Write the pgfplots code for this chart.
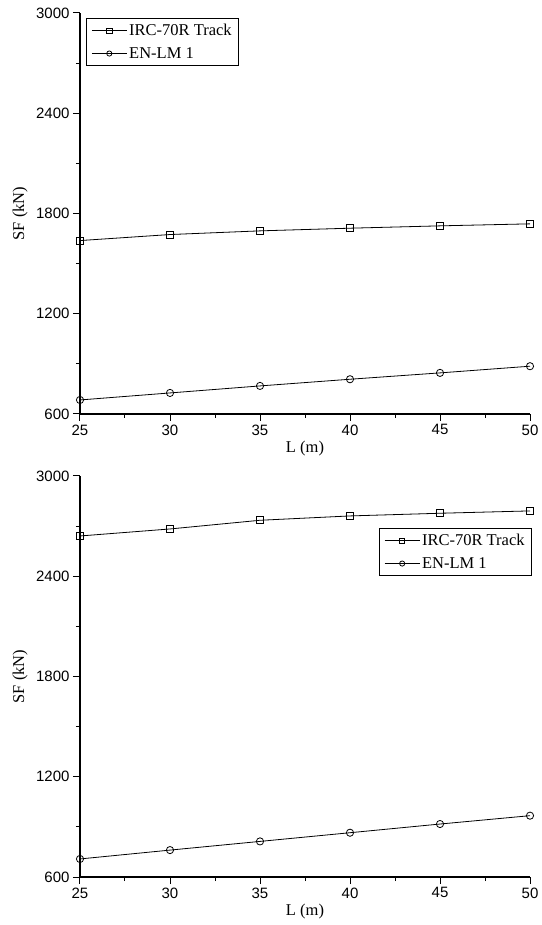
\documentclass[border=0pt]{standalone}
\usepackage{pgfplots}
\pgfplotsset{compat=1.18}
\usepackage{fontspec}
\setmainfont{Liberation Serif}
\newfontfamily\tickfont{Liberation Sans}
\begin{document}
\begin{tikzpicture}
\pgfplotsset{
 myaxis/.style={
  scale only axis, width=450pt, height=401pt,
  xmin=25,xmax=50,ymin=600,ymax=3000,
  clip=false,
  axis x line*=bottom, axis y line*=left,
  axis line style={line width=1.1pt,-},
  xtick={25,30,...,50}, ytick={600,1200,...,3000},
  minor x tick num=1, minor y tick num=1,
  tick align=outside, major tick length=7pt, minor tick length=4pt,
  every tick/.style={line width=1pt,black},
  ticklabel style={font=\tickfont\fontsize{15}{15}\selectfont},
  /pgf/number format/assume math mode=true,
  /pgf/number format/1000 sep={},
  scaled ticks=false,
  xlabel={L (m)}, ylabel={SF (kN)},
  label style={font=\fontsize{16.5}{16.5}\selectfont},
  xlabel style={at={(axis description cs:0.5,0)},anchor=center,yshift=-35pt},
  ylabel style={at={(axis description cs:-0.133,0.5)},anchor=center},
  legend cell align=left,
  legend style={draw=black, line width=0.8pt, font=\fontsize{16.5}{16.5}\selectfont,
     inner xsep=5pt, inner ysep=4pt, row sep=6pt},
  legend image code/.code={\draw[mark repeat=2,mark phase=2,#1,mark size=2.6pt] plot coordinates {(0pt,0pt) (17.5pt,0pt) (35pt,0pt)};},
 },
 sq/.style={black, line width=0.8pt, mark=square, mark size=3.5pt, mark options={solid, line width=0.8pt}},
 ci/.style={black, line width=0.8pt, mark=o, mark size=3.6pt, mark options={solid, line width=0.8pt}},
}
% top plot
\begin{axis}[myaxis, at={(0pt,463pt)},
  legend style={at={(rel axis cs:0,1)}, anchor=north west, xshift=6pt, yshift=-5pt}]
\addplot[sq] coordinates {(25,1638) (30,1674) (35,1696) (40,1712) (45,1726) (50,1738)};
\addlegendentry{IRC-70R Track}
\addplot[ci] coordinates {(25,684) (30,726) (35,768) (40,808) (45,846) (50,886)};
\addlegendentry{EN-LM 1}
\end{axis}
% bottom plot
\begin{axis}[myaxis, at={(0pt,0pt)},
  legend style={at={(rel axis cs:1,1)}, anchor=north east, xshift=2pt, yshift=-52pt}]
\addplot[sq] coordinates {(25,2641) (30,2683) (35,2735) (40,2761) (45,2777) (50,2791)};
\addlegendentry{IRC-70R Track}
\addplot[ci] coordinates {(25,708) (30,761) (35,813) (40,865) (45,917) (50,967)};
\addlegendentry{EN-LM 1}
\end{axis}
\pgfresetboundingbox
\path (-80pt,-48pt) rectangle (461pt,877pt);
\end{tikzpicture}
\end{document}
